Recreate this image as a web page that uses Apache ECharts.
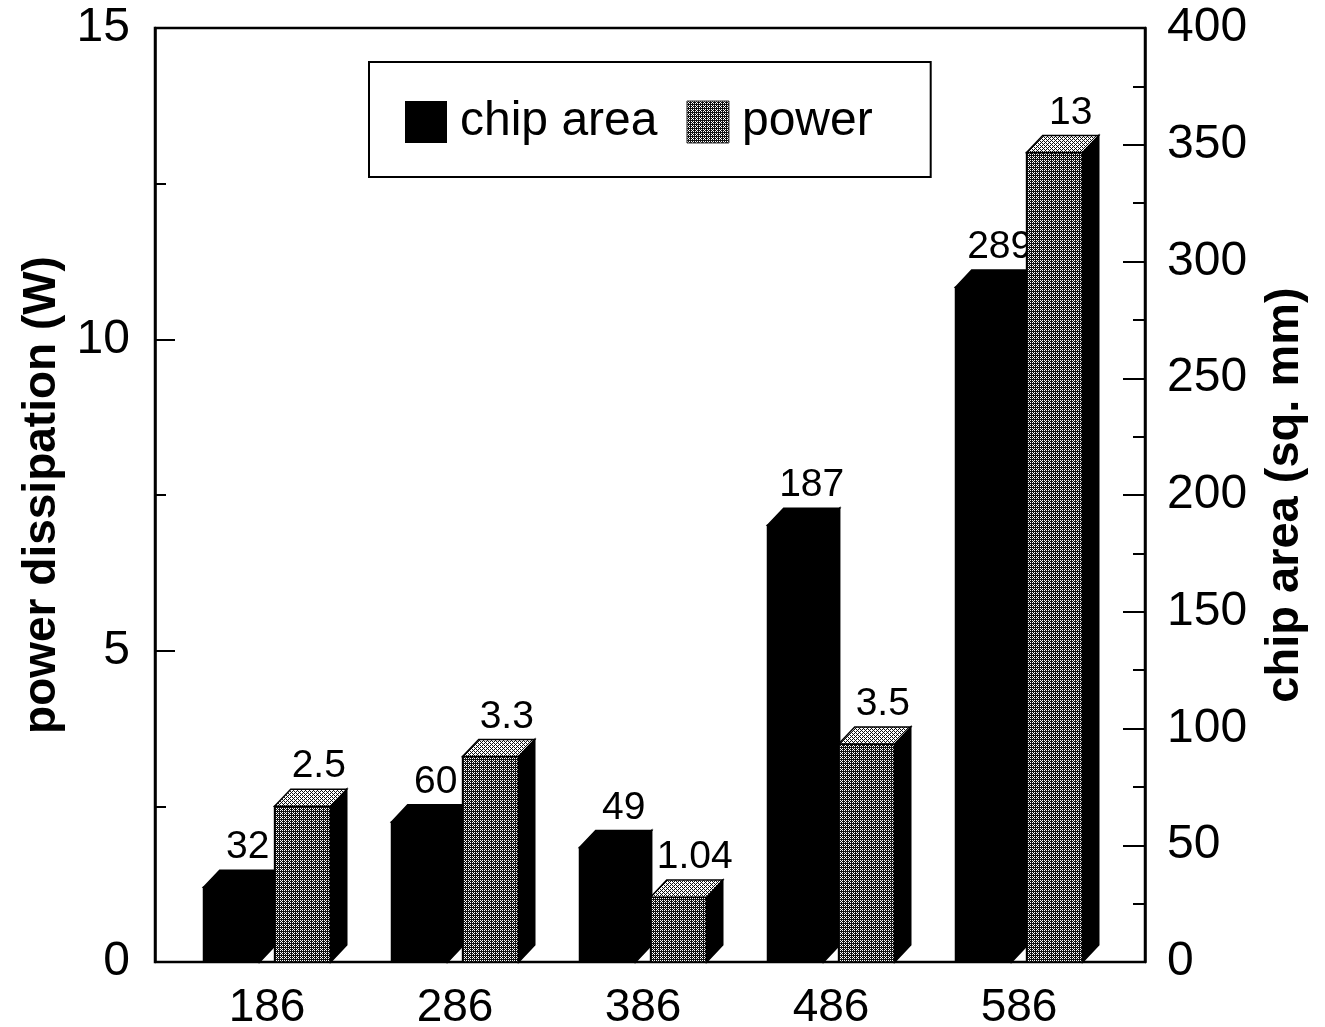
<!DOCTYPE html>
<html>
<head>
<meta charset="utf-8">
<script src="https://cdn.jsdelivr.net/npm/echarts@6/dist/echarts.min.js"></script>
<style>
  html, body { margin: 0; padding: 0; background: #fff; }
  #chart { width: 1325px; height: 1027px; }
</style>
</head>
<body>
<div id="chart"></div>
<script>
// Processor generations and their measurements
const categories = ['186', '286', '386', '486', '586'];
const chipArea = [32, 60, 49, 187, 289];      // sq. mm, right axis
const power = [2.5, 3.3, 1.04, 3.5, 13];       // W, left axis
const powerTicks = [0, 5, 10, 15];
const areaTicks = [0, 50, 100, 150, 200, 250, 300, 350, 400];

const FONT = '"Liberation Sans", Arial, Helvetica, sans-serif';

// Ordered-dither tile used for the stippled "power" fill
const BAYER = [[0, 8, 2, 10], [12, 4, 14, 6], [3, 11, 1, 9], [15, 7, 13, 5]];
function stipple(level, dark) {
  const c = document.createElement('canvas');
  c.width = 4; c.height = 4;
  const ctx = c.getContext('2d');
  for (let y = 0; y < 4; y++) {
    for (let x = 0; x < 4; x++) {
      ctx.fillStyle = BAYER[y][x] < level ? '#ffffff' : dark;
      ctx.fillRect(x, y, 1, 1);
    }
  }
  return { image: c, repeat: 'repeat' };
}
const frontFill = stipple(5, '#111111');
const topFill = stipple(10, '#111111');

// Draws one 3D bar: front face, right side face, top face and value label.
function makeBar(shiftFrac, faces) {
  return function (params, api) {
    const x = api.value(0);
    const v = api.value(1);
    const top = api.coord([x, v]);
    const base = api.coord([x, 0]);
    const unit = api.size([1, 0])[0];
    const fw = unit * 0.298;
    const dx = unit * 0.086;
    const dy = dx * 1.06;
    const left = top[0] + unit * shiftFrac;
    const ty = top[1];
    const by = base[1];
    return {
      type: 'group',
      children: [
        {
          type: 'rect',
          shape: { x: left, y: ty, width: fw, height: by - ty },
          style: { fill: faces.front, stroke: '#000', lineWidth: 1.5 }
        },
        {
          type: 'polygon',
          shape: { points: [[left + fw, ty], [left + fw + dx, ty - dy], [left + fw + dx, by - dy], [left + fw, by]] },
          style: { fill: faces.side, stroke: '#000', lineWidth: 1.5 }
        },
        {
          type: 'polygon',
          shape: { points: [[left, ty], [left + dx, ty - dy], [left + fw + dx, ty - dy], [left + fw, ty]] },
          style: { fill: faces.top, stroke: '#000', lineWidth: 1.5 }
        },
        {
          type: 'text',
          style: {
            x: left + fw / 2 + dx,
            y: ty - dy - 3,
            text: String(v),
            fontSize: 39,
            fontFamily: FONT,
            fill: '#000',
            align: 'center',
            verticalAlign: 'bottom'
          }
        }
      ]
    };
  };
}

const chart = echarts.init(document.getElementById('chart'), null, { renderer: 'canvas' });

chart.setOption({
  backgroundColor: '#fff',
  animation: false,
  grid: {
    left: 155, right: 180, top: 28, bottom: 65,
    outerBoundsMode: 'none',
    show: true, borderColor: '#000', borderWidth: 2.5, backgroundColor: 'transparent'
  },
  legend: {
    left: 369, top: 62,
    orient: 'horizontal',
    padding: [36, 58, 31, 36],
    itemGap: 29,
    itemWidth: 42, itemHeight: 42,
    borderColor: '#000', borderWidth: 2,
    selectedMode: false,
    textStyle: { fontSize: 48, fontFamily: FONT, color: '#000', padding: [0, 0, 0, 8], lineHeight: 46 },
    data: [
      { name: 'chip area', icon: 'rect', itemStyle: { color: '#000' } },
      { name: 'power', icon: 'rect', itemStyle: { color: frontFill, borderColor: '#333', borderWidth: 1 } }
    ]
  },
  xAxis: {
    type: 'value',
    min: -0.596, max: 4.67,
    axisLine: { show: false, onZero: false },
    axisTick: { show: false },
    splitLine: { show: false },
    axisLabel: {
      customValues: categories.map((c, i) => i),
      formatter: (val) => categories[Math.round(val)],
      fontSize: 46, fontFamily: FONT, color: '#000', margin: 23
    }
  },
  yAxis: [
    {
      type: 'value',
      position: 'left',
      min: powerTicks[0], max: powerTicks[powerTicks.length - 1], interval: 5,
      name: 'power dissipation (W)',
      nameLocation: 'middle', nameRotate: 90, nameGap: 85,
      nameTextStyle: { fontSize: 46, fontWeight: 'bold', fontFamily: FONT, color: '#000' },
      axisLine: { show: true, onZero: false, lineStyle: { color: '#000', width: 2.5 } },
      axisTick: { show: true, inside: true, length: 20, lineStyle: { color: '#000', width: 2 } },
      minorTick: { show: true, splitNumber: 2, length: 11, lineStyle: { color: '#000', width: 2 } },
      splitLine: { show: false },
      axisLabel: { fontSize: 48, fontFamily: FONT, color: '#000', margin: 25 }
    },
    {
      type: 'value',
      position: 'right',
      min: areaTicks[0], max: areaTicks[areaTicks.length - 1], interval: 50,
      name: 'chip area (sq. mm)',
      nameLocation: 'middle', nameRotate: 90, nameGap: 117,
      nameTextStyle: { fontSize: 47, fontWeight: 'bold', fontFamily: FONT, color: '#000' },
      axisLine: { show: true, onZero: false, lineStyle: { color: '#000', width: 2.5 } },
      axisTick: { show: true, inside: true, length: 22, lineStyle: { color: '#000', width: 2 } },
      minorTick: { show: true, splitNumber: 2, length: 12, lineStyle: { color: '#000', width: 2 } },
      splitLine: { show: false },
      axisLabel: { fontSize: 48, fontFamily: FONT, color: '#000', margin: 22 }
    }
  ],
  series: [
    {
      name: 'chip area',
      type: 'custom',
      xAxisIndex: 0, yAxisIndex: 1,
      z: 2,
      itemStyle: { color: '#000' },
      encode: { x: 0, y: 1 },
      data: chipArea.map((v, i) => [i, v]),
      renderItem: makeBar(-0.338, { front: '#000', side: '#000', top: '#000' })
    },
    {
      name: 'power',
      type: 'custom',
      xAxisIndex: 0, yAxisIndex: 0,
      z: 3,
      itemStyle: { color: frontFill },
      encode: { x: 0, y: 1 },
      data: power.map((v, i) => [i, v]),
      renderItem: makeBar(0.04, { front: frontFill, side: '#000', top: topFill })
    }
  ]
});
</script>
</body>
</html>
